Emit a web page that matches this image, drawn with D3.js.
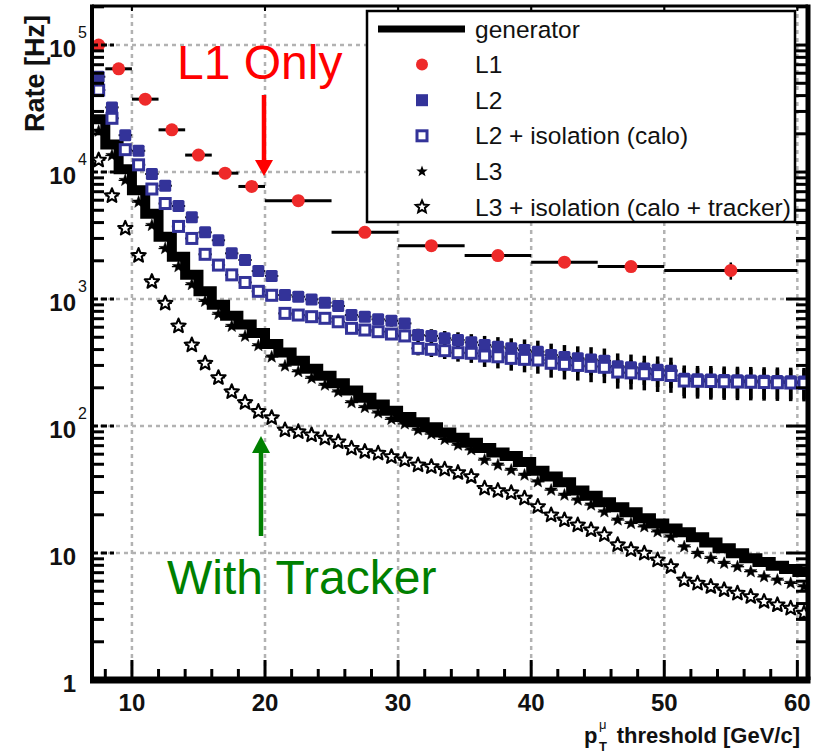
<!DOCTYPE html>
<html>
<head>
<meta charset="utf-8">
<script src="https://cdn.jsdelivr.net/npm/d3@7"></script>
<style>
  body { margin: 0; background: #fff; }
  svg { display: block; font-family: "Liberation Sans", Arial, sans-serif; }
</style>
</head>
<body>
<svg id="chart" width="821" height="753"></svg>
<script>
// ---- data -------------------------------------------------------------
// threshold bin centres (1 GeV/c bins)
const binCenters = [7.5, 8.5, 9.5, 10.5, 11.5, 12.5, 13.5, 14.5, 15.5, 16.5,
  17.5, 18.5, 19.5, 20.5, 21.5, 22.5, 23.5, 24.5, 25.5, 26.5,
  27.5, 28.5, 29.5, 30.5, 31.5, 32.5, 33.5, 34.5, 35.5, 36.5,
  37.5, 38.5, 39.5, 40.5, 41.5, 42.5, 43.5, 44.5, 45.5, 46.5,
  47.5, 48.5, 49.5, 50.5, 51.5, 52.5, 53.5, 54.5, 55.5, 56.5,
  57.5, 58.5, 59.5, 60.5];

// generator-level rate [Hz]
const generatorRate = [26000, 16500, 10500, 7200, 4700, 3100, 2150, 1550, 1150, 900,
  740, 630, 540, 442, 380, 327, 283, 249, 217, 190,
  167, 148, 132, 118, 107, 98, 89, 81, 74, 67,
  62, 58, 52, 44.5, 40, 36, 31, 28.3, 25.1, 22.9,
  20.9, 18.8, 17.1, 15.6, 14.6, 13.3, 12.1, 10.9, 9.95, 9.1,
  8.5, 7.95, 7.5, 7.1];

// L2 rate [Hz]
const l2Rate = [56300, 32300, 19500, 14700, 9650, 7800, 5400, 4400, 3350, 2900,
  2290, 2030, 1660, 1520, 1075, 1043, 993, 935, 881, 748,
  726, 692, 675, 643, 521, 512, 491, 476, 456, 434,
  421, 409, 397, 385, 362, 350, 342, 334, 326, 296,
  290, 284, 278, 272, 236, 234, 232, 230, 229, 228,
  227, 226, 225, 224];

// L2 + calorimeter isolation rate [Hz]
const l2IsoRate = [44200, 26500, 15000, 11400, 7350, 5650, 3730, 3000, 2250, 1850,
  1550, 1350, 1150, 1070, 771, 748, 726, 705, 662, 588,
  570, 553, 530, 512, 409, 402, 392, 378, 374, 356,
  351, 341, 335, 331, 312, 306, 300, 295, 290, 266,
  262, 258, 254, 250, 226, 225, 224, 223, 222, 221,
  220, 219, 218, 217];

// relative statistical uncertainty of the L2 rates
const l2RelErr = [0.01, 0.01, 0.015, 0.015, 0.02, 0.02, 0.025, 0.025, 0.03, 0.03,
  0.035, 0.035, 0.04, 0.04, 0.05, 0.05, 0.06, 0.06, 0.07, 0.08,
  0.09, 0.09, 0.1, 0.1, 0.12, 0.13, 0.14, 0.15, 0.16, 0.18,
  0.19, 0.2, 0.21, 0.22, 0.23, 0.24, 0.24, 0.25, 0.25, 0.26,
  0.26, 0.26, 0.27, 0.27, 0.27, 0.27, 0.28, 0.28, 0.28, 0.28,
  0.28, 0.28, 0.28, 0.28];

// L3 rate [Hz]
const l3Rate = [21000, 13500, 8600, 5800, 3800, 2500, 1800, 1300, 960, 760,
  610, 510, 430, 350, 297, 268, 238, 210, 186, 153,
  140, 127, 113, 104, 93, 86.5, 78.5, 70.8, 65, 54,
  49.3, 45, 41.1, 36.4, 31.3, 28.6, 26.2, 23.9, 21.1, 18.2,
  17.1, 16.1, 14.7, 13.4, 11.2, 9.95, 9.08, 8.3, 7.8, 7.13,
  6.5, 6.13, 5.77, 5.44];

// L3 + calorimeter and tracker isolation rate [Hz]
const l3IsoRate = [12400, 6500, 3600, 2200, 1370, 925, 613, 434, 312, 240,
  186, 153, 130, 116, 93, 90, 85, 80, 75, 66.7,
  62.8, 61, 57.3, 54, 49.3, 47.8, 45.6, 42.9, 39.9, 32.3,
  31, 29.8, 27, 23.2, 19.9, 18.2, 16.6, 15.2, 13.9, 11.6,
  10.6, 9.95, 8.81, 7.8, 6.13, 5.77, 5.43, 5.12, 4.82, 4.53,
  4.14, 3.9, 3.67, 3.35];

// L1 (variable-width bins)
const l1Center = [7.5, 9, 11, 13, 15, 17, 19, 22.5, 27.5, 32.5, 37.5, 42.5, 47.5, 55];
const l1Low    = [7, 8, 10, 12, 14, 16, 18, 20, 25, 30, 35, 40, 45, 50];
const l1High   = [8, 10, 12, 14, 16, 18, 20, 25, 30, 35, 40, 45, 50, 60];
const l1Rate   = [100000, 65000, 37500, 21500, 13600, 9800, 7700, 5950, 3350, 2630, 2200, 1950, 1800, 1680];
const l1Err    = [1500, 900, 500, 300, 200, 150, 120, 90, 60, 50, 45, 45, 50, 260];

const xTickValues = [10, 20, 30, 40, 50, 60];
const xMinorValues = [8, 12, 14, 16, 18, 22, 24, 26, 28, 32, 34, 36, 38, 42, 44, 46, 48, 52, 54, 56, 58];
const yDecades = [1, 10, 100, 1000, 10000, 100000];
const yDecadeExp = ["", "", "2", "3", "4", "5"];
const yDecadeBase = ["1", "10", "10", "10", "10", "10"];

const legendLabels = ["generator", "L1", "L2", "L2 + isolation (calo)", "L3",
  "L3 + isolation (calo + tracker)"];

// ---- layout -----------------------------------------------------------
const svg = d3.select("#chart");
const P = { left: 92, right: 808, top: 6, bottom: 680 };
const x = d3.scaleLinear().domain([7, 60.8]).range([P.left, P.right]);
const y = d3.scaleLog().domain([1, 2.03e5]).range([P.bottom, P.top]);

const RED = "#ee2a2a", BLUE = "#333399", GRID = "#b2b2b2";

svg.append("defs").append("clipPath").attr("id", "plotClip")
  .append("rect").attr("x", P.left).attr("y", P.top)
  .attr("width", P.right - P.left).attr("height", P.bottom - P.top);

// grid
const grid = svg.append("g");
grid.selectAll("line.gx").data(xTickValues).join("line")
  .attr("x1", d => x(d)).attr("x2", d => x(d))
  .attr("y1", P.top).attr("y2", P.bottom)
  .attr("stroke", GRID).attr("stroke-width", 2.5).attr("stroke-dasharray", "4,4");
grid.selectAll("line.gy").data(yDecades.slice(1)).join("line")
  .attr("x1", P.left).attr("x2", P.right)
  .attr("y1", d => y(d)).attr("y2", d => y(d))
  .attr("stroke", GRID).attr("stroke-width", 2.5).attr("stroke-dasharray", "4,4");

const data = svg.append("g").attr("clip-path", "url(#plotClip)");

function starPath(R, r) {
  const pts = [];
  for (let i = 0; i < 10; i++) {
    const a = -Math.PI / 2 + i * Math.PI / 5;
    const rad = i % 2 === 0 ? R : r;
    pts.push([rad * Math.cos(a), rad * Math.sin(a)]);
  }
  return "M" + pts.map(p => p[0].toFixed(2) + "," + p[1].toFixed(2)).join("L") + "Z";
}

// generator histogram (thick step line)
const genPts = binCenters.map((c, i) => [c - 0.5, generatorRate[i]]);
genPts.push([binCenters[binCenters.length - 1] + 0.5, generatorRate[generatorRate.length - 1]]);
data.append("path")
  .attr("d", d3.line().x(d => x(d[0])).y(d => y(d[1])).curve(d3.curveStepAfter)(genPts))
  .attr("fill", "none").attr("stroke", "#000").attr("stroke-width", 10)
  .attr("stroke-linejoin", "miter");

// L3 and L3 + isolation
function starSeries(values, filled) {
  const g = data.append("g");
  g.selectAll("line").data(binCenters).join("line")
    .attr("x1", d => x(d - 0.5)).attr("x2", d => x(d + 0.5))
    .attr("y1", (d, i) => y(values[i])).attr("y2", (d, i) => y(values[i]))
    .attr("stroke", "#000").attr("stroke-width", 1.3);
  g.selectAll("path").data(binCenters).join("path")
    .attr("transform", (d, i) => `translate(${x(d)},${y(values[i])})`)
    .attr("d", filled ? starPath(6.5, 2.7) : starPath(7.5, 3.3))
    .attr("fill", filled ? "#000" : "#fff")
    .attr("stroke", "#000").attr("stroke-width", filled ? 0.5 : 2.1)
    .attr("stroke-linejoin", "round");
}
starSeries(l3IsoRate, false);
starSeries(l3Rate, true);

// L2 error bars
function l2Bars(values) {
  const g = data.append("g");
  g.selectAll("line.v").data(binCenters).join("line")
    .attr("x1", d => x(d)).attr("x2", d => x(d))
    .attr("y1", (d, i) => y(values[i] * (1 + l2RelErr[i])))
    .attr("y2", (d, i) => y(values[i] * (1 - l2RelErr[i])))
    .attr("stroke", "#000").attr("stroke-width", 3.5);
  g.selectAll("line.h").data(binCenters).join("line")
    .attr("x1", d => x(d - 0.5)).attr("x2", d => x(d + 0.5))
    .attr("y1", (d, i) => y(values[i])).attr("y2", (d, i) => y(values[i]))
    .attr("stroke", "#000").attr("stroke-width", 2);
}
l2Bars(l2Rate);
l2Bars(l2IsoRate);

data.append("g").selectAll("rect").data(binCenters).join("rect")
  .attr("x", d => x(d) - 6).attr("y", (d, i) => y(l2Rate[i]) - 6)
  .attr("width", 12).attr("height", 12).attr("rx", 1.5)
  .attr("fill", BLUE);
data.append("g").selectAll("rect").data(binCenters).join("rect")
  .attr("x", d => x(d) - 5).attr("y", (d, i) => y(l2IsoRate[i]) - 5)
  .attr("width", 10).attr("height", 10)
  .attr("fill", "#fff").attr("stroke", BLUE).attr("stroke-width", 3);

// L1
const l1g = data.append("g");
l1g.selectAll("line.h").data(l1Center).join("line")
  .attr("x1", (d, i) => x(l1Low[i])).attr("x2", (d, i) => x(l1High[i]))
  .attr("y1", (d, i) => y(l1Rate[i])).attr("y2", (d, i) => y(l1Rate[i]))
  .attr("stroke", "#000").attr("stroke-width", 3);
l1g.selectAll("line.v").data(l1Center).join("line")
  .attr("x1", d => x(d)).attr("x2", d => x(d))
  .attr("y1", (d, i) => y(l1Rate[i] + l1Err[i])).attr("y2", (d, i) => y(l1Rate[i] - l1Err[i]))
  .attr("stroke", "#000").attr("stroke-width", 2.5);
l1g.selectAll("circle").data(l1Center).join("circle")
  .attr("cx", d => x(d)).attr("cy", (d, i) => y(l1Rate[i])).attr("r", 6.5)
  .attr("fill", RED);

// ---- frame and ticks --------------------------------------------------
const axes = svg.append("g").attr("stroke", "#000");
const yMinor = [];
yDecades.forEach(d => { for (let m = 2; m <= 9; m++) if (m * d < 2.03e5) yMinor.push(m * d); });
axes.selectAll("line.lminor").data(yMinor).join("line")
  .attr("x1", P.left).attr("x2", P.left + 12)
  .attr("y1", d => y(d)).attr("y2", d => y(d)).attr("stroke-width", 3);
axes.selectAll("line.lmajor").data(yDecades).join("line")
  .attr("x1", P.left).attr("x2", P.left + 22)
  .attr("y1", d => y(d)).attr("y2", d => y(d)).attr("stroke-width", 3)
  .attr("stroke-dasharray", "6,3");
axes.selectAll("line.rminor").data(yMinor).join("line")
  .attr("x1", P.right).attr("x2", P.right - 12)
  .attr("y1", d => y(d)).attr("y2", d => y(d)).attr("stroke-width", 3);
axes.selectAll("line.rmajor").data(yDecades).join("line")
  .attr("x1", P.right).attr("x2", P.right - 22)
  .attr("y1", d => y(d)).attr("y2", d => y(d)).attr("stroke-width", 3);
axes.selectAll("line.bminor").data(xMinorValues).join("line")
  .attr("x1", d => x(d)).attr("x2", d => x(d))
  .attr("y1", P.bottom).attr("y2", P.bottom - 11).attr("stroke-width", 3);
axes.selectAll("line.bmajor").data(xTickValues).join("line")
  .attr("x1", d => x(d)).attr("x2", d => x(d))
  .attr("y1", P.bottom).attr("y2", P.bottom - 20).attr("stroke-width", 3);
axes.selectAll("line.tmajor").data(xTickValues).join("line")
  .attr("x1", d => x(d)).attr("x2", d => x(d))
  .attr("y1", P.top).attr("y2", P.top + 5).attr("stroke-width", 2);

axes.append("line").attr("x1", P.left).attr("x2", P.right).attr("y1", P.top).attr("y2", P.top).attr("stroke-width", 3);
axes.append("line").attr("x1", P.left).attr("x2", P.left).attr("y1", P.top - 1.5).attr("y2", P.bottom).attr("stroke-width", 4);
axes.append("line").attr("x1", P.right).attr("x2", P.right).attr("y1", P.top - 1.5).attr("y2", P.bottom).attr("stroke-width", 5);
axes.append("line").attr("x1", P.left - 2).attr("x2", P.right + 2.5).attr("y1", P.bottom).attr("y2", P.bottom).attr("stroke-width", 7);

// tick labels
const labels = svg.append("g").attr("fill", "#111").attr("font-weight", "bold");
labels.selectAll("text.xl").data(xTickValues).join("text")
  .attr("x", d => x(d)).attr("y", 711).attr("text-anchor", "middle")
  .attr("font-size", 24).text(d => d);
labels.selectAll("text.yl").data(yDecades).join("text")
  .attr("x", 76).attr("y", d => y(d) + 12).attr("text-anchor", "end")
  .attr("font-size", 24).text((d, i) => yDecadeBase[i]);
labels.selectAll("text.ye").data(yDecades).join("text")
  .attr("x", 78).attr("y", d => y(d) - 7).attr("text-anchor", "start")
  .attr("font-size", 16).attr("font-weight", "normal").text((d, i) => yDecadeExp[i]);

// axis titles
svg.append("text").attr("transform", "translate(44,15) rotate(-90)")
  .attr("text-anchor", "end").attr("font-size", 27).attr("font-weight", "bold")
  .attr("fill", "#111").text("Rate [Hz]");
const xt = svg.append("g").attr("fill", "#111").attr("font-weight", "bold");
xt.append("text").attr("x", 800).attr("y", 743).attr("text-anchor", "end")
  .attr("font-size", 22).text("threshold [GeV/c]");
xt.append("text").attr("x", 584).attr("y", 743).attr("font-size", 22).text("p");
xt.append("text").attr("x", 599).attr("y", 751).attr("font-size", 13).text("T");
xt.append("text").attr("x", 599).attr("y", 729).attr("font-size", 13).attr("font-weight", "normal").text("μ");

// ---- legend -----------------------------------------------------------
const lg = svg.append("g");
lg.append("rect").attr("x", 367).attr("y", 11).attr("width", 428).attr("height", 211)
  .attr("fill", "#fff").attr("stroke", "#000").attr("stroke-width", 2.5);
const rowY = d3.range(legendLabels.length).map(i => 29 + i * 35.6);
lg.selectAll("text").data(legendLabels).join("text")
  .attr("x", 475).attr("y", (d, i) => rowY[i] + 8.5)
  .attr("font-size", 24.5).attr("fill", "#111").text(d => d);
lg.append("line").attr("x1", 378).attr("x2", 465).attr("y1", rowY[0]).attr("y2", rowY[0])
  .attr("stroke", "#000").attr("stroke-width", 7);
lg.append("circle").attr("cx", 422).attr("cy", rowY[1]).attr("r", 6).attr("fill", RED);
lg.append("rect").attr("x", 416).attr("y", rowY[2] - 6).attr("width", 12).attr("height", 12).attr("fill", BLUE);
lg.append("rect").attr("x", 417).attr("y", rowY[3] - 5).attr("width", 10).attr("height", 10)
  .attr("fill", "#fff").attr("stroke", BLUE).attr("stroke-width", 3);
lg.append("path").attr("transform", `translate(422,${rowY[4]})`).attr("d", starPath(6, 2.5)).attr("fill", "#000");
lg.append("path").attr("transform", `translate(422,${rowY[5]})`).attr("d", starPath(6.5, 3))
  .attr("fill", "#fff").attr("stroke", "#000").attr("stroke-width", 2);

// ---- annotations ------------------------------------------------------
const ann = svg.append("g");
ann.append("text").attr("x", 177).attr("y", 79).attr("font-size", 48).attr("fill", "#ff0000").text("L1 Only");
ann.append("line").attr("x1", 264).attr("x2", 264).attr("y1", 95).attr("y2", 162)
  .attr("stroke", "#ff0000").attr("stroke-width", 4.5);
ann.append("path").attr("d", "M255,160 L273,160 L264,176 Z").attr("fill", "#ff0000");

ann.append("text").attr("x", 167).attr("y", 594).attr("font-size", 48).attr("fill", "#008000").text("With Tracker");
ann.append("line").attr("x1", 261).attr("x2", 261).attr("y1", 536).attr("y2", 450)
  .attr("stroke", "#008000").attr("stroke-width", 4.5);
ann.append("path").attr("d", "M252,453 L270,453 L261,436 Z").attr("fill", "#008000");
</script>
</body>
</html>
